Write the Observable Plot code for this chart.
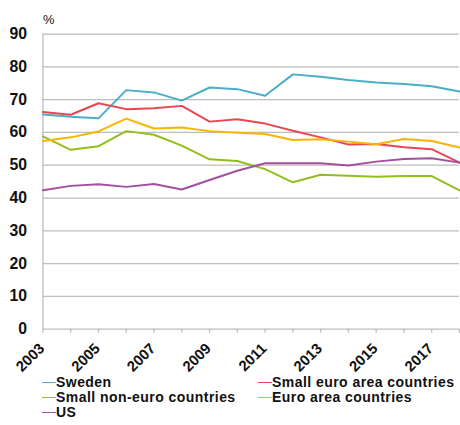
<!DOCTYPE html>
<html>
<head>
<meta charset="utf-8">
<script src="https://cdn.jsdelivr.net/npm/d3@7"></script>
<script src="https://cdn.jsdelivr.net/npm/@observablehq/plot@0.6"></script>
<style>
  html, body { margin: 0; padding: 0; background: #fff; overflow: hidden; }
  body { width: 460px; height: 425px; font-family: "Liberation Sans", Arial, sans-serif; }
  #chart svg { display: block; }
  .legend {
    display: grid;
    grid-template-columns: 216px 200px;
    margin-left: 42px;
    font-weight: bold;
    font-size: 14px;
    letter-spacing: 0.45px;
    line-height: 15px;
    color: #111;
    white-space: nowrap;
  }
  .legend .item { display: flex; align-items: center; height: 15px; }
  .legend .sw { width: 14px; height: 1.5px; flex: none; }
</style>
</head>
<body>
<div id="chart"></div>
<div class="legend" id="legend"></div>
<script>
// Annual shares, per cent
const years = [2003, 2004, 2005, 2006, 2007, 2008, 2009, 2010, 2011, 2012, 2013, 2014, 2015, 2016, 2017, 2018];
const sweden = [65.5, 64.8, 64.3, 72.9, 72.2, 69.7, 73.7, 73.2, 71.2, 77.7, 77.0, 76.0, 75.2, 74.8, 74.1, 72.5];
const smallEuro = [66.2, 65.4, 68.9, 67.1, 67.4, 68.1, 63.3, 64.0, 62.7, 60.5, 58.5, 56.3, 56.5, 55.5, 54.9, 50.8];
const smallNonEuro = [58.8, 54.7, 55.8, 60.4, 59.3, 56.0, 51.8, 51.3, 48.8, 44.8, 47.1, 46.8, 46.5, 46.7, 46.7, 42.3];
const euroArea = [57.4, 58.5, 60.3, 64.2, 61.2, 61.5, 60.4, 59.9, 59.5, 57.7, 57.9, 57.2, 56.4, 58.0, 57.4, 55.4];
const us = [42.4, 43.7, 44.2, 43.4, 44.3, 42.6, 45.5, 48.3, 50.6, 50.6, 50.6, 49.9, 51.1, 51.9, 52.1, 50.8];

const yTicks = [0, 10, 20, 30, 40, 50, 60, 70, 80, 90];
const xLabels = [2003, 2005, 2007, 2009, 2011, 2013, 2015, 2017];

const seriesNames = ["Sweden", "Small euro area countries", "Small non-euro countries", "Euro area countries", "US"];
const seriesValues = [sweden, smallEuro, smallNonEuro, euroArea, us];
const seriesColors = ["#4aaec8", "#e8474f", "#92be1d", "#f8b400", "#a3509f"];

const rows = seriesNames.flatMap((name, i) =>
  years.map((year, j) => ({series: name, year, value: seriesValues[i][j]}))
);

const gridColor = "#bdbdbd";

const chart = Plot.plot({
  width: 466,
  height: 380,
  marginLeft: 43,
  marginRight: 1,
  marginTop: 34,
  marginBottom: 47,
  style: {fontFamily: "'Liberation Sans', Arial, sans-serif", color: "#111", background: "#fff"},
  x: {type: "linear", domain: [2003, 2018]},
  y: {type: "linear", domain: [0, 90]},
  color: {domain: seriesNames, range: seriesColors},
  marks: [
    Plot.gridY(yTicks, {stroke: gridColor, strokeOpacity: 1, strokeWidth: 1.3}),
    Plot.ruleX([2003], {y1: 0, y2: 90, stroke: gridColor, strokeWidth: 1.3}),
    // year tick marks along the bottom
    Plot.axisX(years, {
      tickSize: 4,
      stroke: gridColor,
      strokeWidth: 1.3,
      tickFormat: () => "",
      label: null
    }),
    // slanted year labels, every other year
    Plot.text(xLabels, {
      x: d => d,
      y: 0,
      text: d => String(d),
      rotate: -45,
      textAnchor: "end",
      lineAnchor: "middle",
      dx: -1,
      dy: 17,
      fontSize: 15,
      fontWeight: "bold",
      fill: "#111"
    }),
    Plot.axisY(yTicks, {
      tickSize: 0,
      tickPadding: 16,
      fontSize: 16,
      fontWeight: "bold",
      label: null
    }),
    Plot.text(["%"], {frameAnchor: "top-left", dy: -19, textAnchor: "start", fontSize: 13}),
    Plot.line(rows, {x: "year", y: "value", z: "series", stroke: "series", strokeWidth: 2})
  ]
});
document.getElementById("chart").appendChild(chart);

// Legend: two columns, filled row by row
const legend = document.getElementById("legend");
seriesNames.forEach((name, i) => {
  const item = document.createElement("div");
  item.className = "item";
  const sw = document.createElement("span");
  sw.className = "sw";
  sw.style.background = seriesColors[i];
  const label = document.createElement("span");
  label.textContent = name;
  item.appendChild(sw);
  item.appendChild(label);
  legend.appendChild(item);
});
</script>
</body>
</html>
